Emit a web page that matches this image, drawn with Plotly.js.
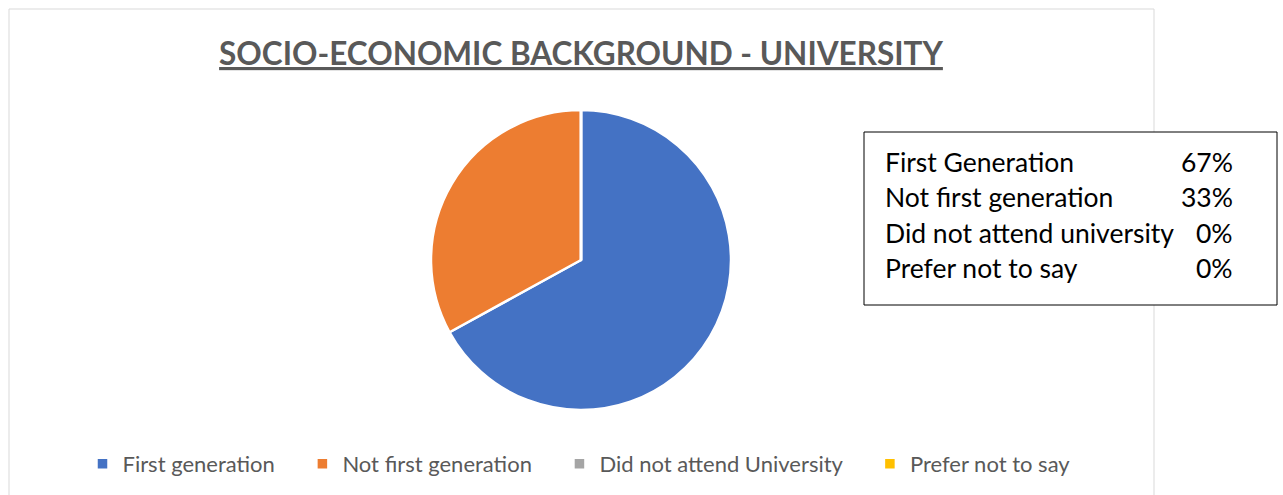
<!DOCTYPE html>
<html>
<head>
<meta charset="utf-8">
<script src="https://cdn.plot.ly/plotly-3.0.1.min.js"></script>
<style>html,body{margin:0;padding:0;background:#fff;}#chart{width:1283px;height:495px;}</style>
</head>
<body>
<div id="chart"></div>
<script>
const chartTitle = "SOCIO-ECONOMIC BACKGROUND - UNIVERSITY";
const categories = ["First generation", "Not first generation", "Did not attend University", "Prefer not to say"];
const values = [67, 33, 0, 0];
const colors = ["#4472C4", "#ED7D31", "#A5A5A5", "#FFC000"];
const boxLabels = ["First Generation", "Not first generation", "Did not attend university", "Prefer not to say"];
const boxPercents = ["67%", "33%", "0%", "0%"];

const W = 1283, H = 495;
const px = x => x / W;
const py = y => 1 - y / H;

const rowY = [162, 197, 233, 268];
const annotations = [];
boxLabels.forEach((lab, i) => {
  annotations.push({xref:'paper', yref:'paper', x: px(883), y: py(rowY[i]), xanchor:'left', yanchor:'middle',
    text: lab, showarrow:false, font:{family:'Lato, sans-serif', size:26.5, color:'#000'}});
  annotations.push({xref:'paper', yref:'paper', x: px(1235), y: py(rowY[i]), xanchor:'right', yanchor:'middle',
    text: boxPercents[i], showarrow:false, font:{family:'Lato, sans-serif', size:26.5, color:'#000'}});
});

// legend labels with a little trailing spacing to mimic the wider item gaps
const legendLabels = categories.map((c, i) => i < categories.length - 1 ? c + '\u00a0\u00a0\u00a0\u00a0' : c);

const data = [{
  type:'pie',
  labels: legendLabels,
  values: values,
  marker:{colors: colors, line:{color:'#ffffff', width:2.5}},
  sort:false,
  direction:'clockwise',
  rotation:0,
  textinfo:'none',
  hoverinfo:'label+percent',
  domain:{x:[px(430), px(732)], y:[py(410), py(110)]}
}];

const layout = {
  width: W, height: H,
  margin:{l:0, r:0, t:0, b:0},
  paper_bgcolor:'#ffffff',
  title:{text:'<b><u>' + chartTitle + '</u></b>', x: px(581), xanchor:'center', y: py(54), yanchor:'middle',
    font:{family:'Lato, sans-serif', size:31.5, color:'#595959'}},
  showlegend:true,
  legend:{orientation:'h', x: px(579), xanchor:'center', y: py(464), yanchor:'middle',
    font:{family:'Lato, sans-serif', size:22, color:'#595959'}, itemwidth:30, traceorder:'normal'},
  shapes:[
    {type:'rect', xref:'paper', yref:'paper', x0: px(9), x1: px(1154), y0: -0.1, y1: py(9),
      line:{color:'#d9d9d9', width:1}, fillcolor:'rgba(0,0,0,0)', layer:'below'},
    {type:'rect', xref:'paper', yref:'paper', x0: px(864), x1: px(1277), y0: py(305), y1: py(132),
      line:{color:'#000000', width:1}, fillcolor:'#ffffff', layer:'above'}
  ],
  annotations: annotations
};

Plotly.newPlot('chart', data, layout, {displayModeBar:false, staticPlot:true});
</script>
</body>
</html>
